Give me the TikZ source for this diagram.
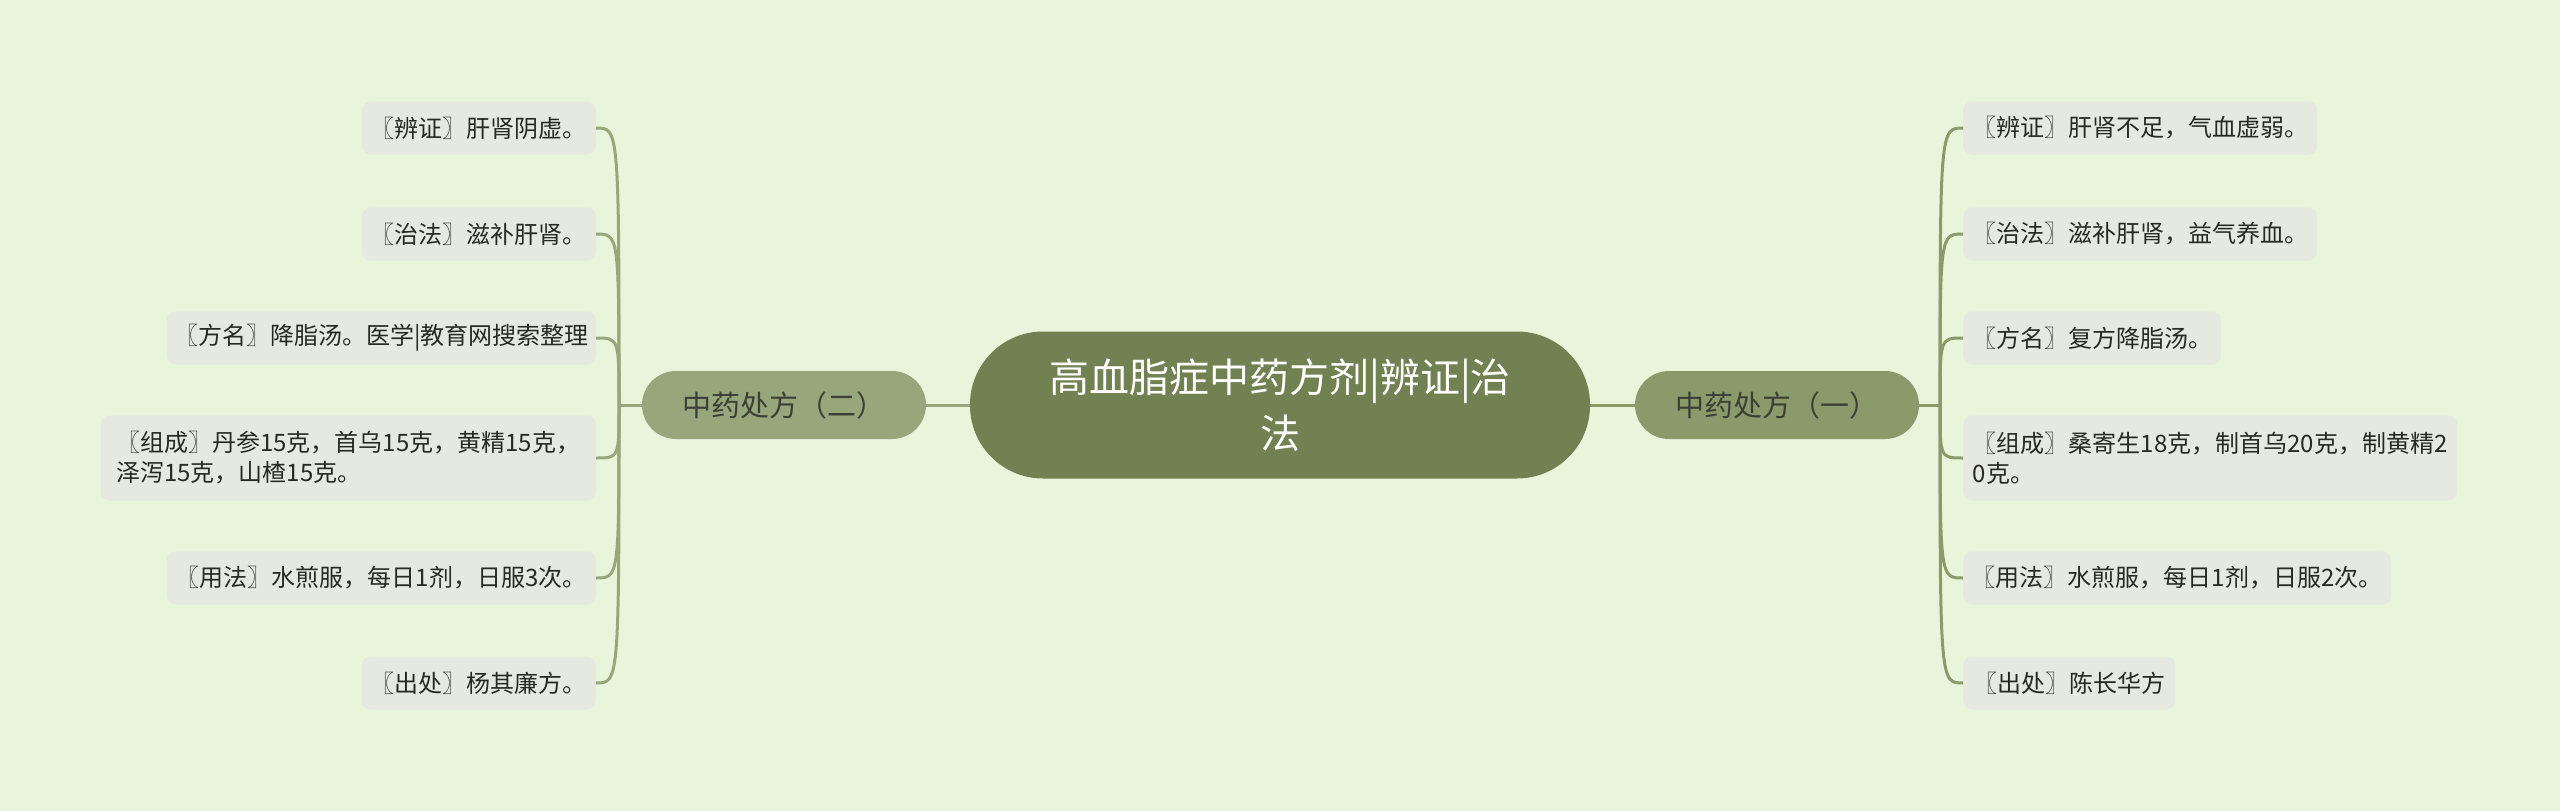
\documentclass[tikz,border=0pt]{standalone}
\usepackage{fontspec}
\newfontfamily\cjkfont{Noto Sans CJK SC}
\usetikzlibrary{calc}

\definecolor{bgcol}{HTML}{E8F5DB}
\definecolor{rootcol}{HTML}{728152}
\definecolor{rightcol}{HTML}{8A9A6A}
\definecolor{leftcol}{HTML}{97A67B}
\definecolor{leafcol}{HTML}{E6E9DF}
\definecolor{inkcol}{HTML}{262A20}

\tikzset{
	root/.style={fill=rootcol, text=white, rounded corners=73pt, minimum width=620pt,
		minimum height=147pt, align=center, font=\cjkfont\fontsize{40}{56}\selectfont},
	branch/.style={rounded corners=34pt, minimum width=284pt, minimum height=68pt,
		text=inkcol!90, font=\cjkfont\fontsize{29}{34}\selectfont},
	leaf/.style={fill=leafcol, text=inkcol, rounded corners=9pt, minimum height=53pt,
		inner xsep=6pt, align=left, font=\cjkfont\fontsize{24}{30}\selectfont},
	rline/.style={draw=rightcol, line width=3pt},
	lline/.style={draw=leftcol, line width=3pt}
}

\begin{document}
\begin{tikzpicture}[x=1pt, y=-1pt]
	\fill[bgcol] (0, 0) rectangle (2560, 811);
	\useasboundingbox (0, 0) rectangle (2560, 811);

	\node[root] (root) at (1280, 405) {高血脂症中药方剂|辨证|治\\法};

	\begin{scope}
		\node[branch, fill=rightcol] (b1) at (1777, 405) {中药处方（一）};
		\coordinate (rtrunk) at (1940, 405);

		\node[leaf, anchor=west, minimum width=354pt] (r1) at (1963, 128) {〖辨证〗肝肾不足，气血虚弱。};
		\node[leaf, anchor=west, minimum width=354pt] (r2) at (1963, 234) {〖治法〗滋补肝肾，益气养血。};
		\node[leaf, anchor=west, minimum width=258pt] (r3) at (1963, 338) {〖方名〗复方降脂汤。};
		\node[leaf, anchor=west, minimum width=494pt, minimum height=85pt] (r4) at (1963, 458) {〖组成〗桑寄生18克，制首乌20克，制黄精2\\0克。};
		\node[leaf, anchor=west, minimum width=428pt] (r5) at (1963, 578) {〖用法〗水煎服，每日1剂，日服2次。};
		\node[leaf, anchor=west, minimum width=212pt] (r6) at (1963, 683) {〖出处〗陈长华方};

		% Draw the edges from the branch to its leaves
		\draw[rline] (root.east) -- (b1.west);
		\draw[rline] (b1.east) -- (rtrunk);
		\foreach \n in {r1, r2, r3, r4, r5, r6}
			\draw[rline] (rtrunk) .. controls (rtrunk |- \n.west) .. (\n.west);
	\end{scope}

	\begin{scope}
		\node[branch, fill=leftcol] (b2) at (784, 405) {中药处方（二）};
		\coordinate (ltrunk) at (619, 405);

		\node[leaf, anchor=east, minimum width=234pt] (l1) at (596, 128) {〖辨证〗肝肾阴虚。};
		\node[leaf, anchor=east, minimum width=234pt] (l2) at (596, 234) {〖治法〗滋补肝肾。};
		\node[leaf, anchor=east, minimum width=429pt] (l3) at (596, 338) {〖方名〗降脂汤。医学|教育网搜索整理};
		\node[leaf, anchor=east, minimum width=495pt, minimum height=85pt] (l4) at (596, 458) {〖组成〗丹参15克，首乌15克，黄精15克，\\泽泻15克，山楂15克。};
		\node[leaf, anchor=east, minimum width=429pt] (l5) at (596, 578) {〖用法〗水煎服，每日1剂，日服3次。};
		\node[leaf, anchor=east, minimum width=234pt] (l6) at (596, 683) {〖出处〗杨其廉方。};

		% Draw the edges from the branch to its leaves
		\draw[lline] (root.west) -- (b2.east);
		\draw[lline] (b2.west) -- (ltrunk);
		\foreach \n in {l1, l2, l3, l4, l5, l6}
			\draw[lline] (ltrunk) .. controls (ltrunk |- \n.east) .. (\n.east);
	\end{scope}
\end{tikzpicture}
\end{document}
